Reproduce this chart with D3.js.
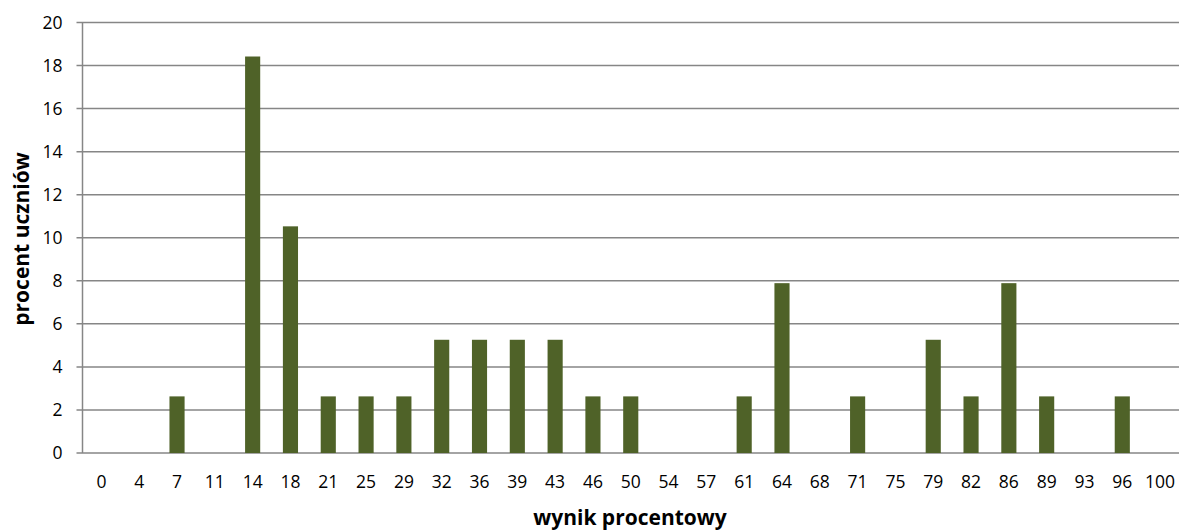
<!DOCTYPE html>
<html>
<head>
<meta charset="utf-8">
<script src="https://cdn.jsdelivr.net/npm/d3@7"></script>
<style>
  body { margin: 0; background: #fff; }
  text { font-family: "Open Sans", sans-serif; }
</style>
</head>
<body>
<div id="chart"></div>
<script>
var categories = ["0","4","7","11","14","18","21","25","29","32","36","39","43","46","50","54","57","61","64","68","71","75","79","82","86","89","93","96","100"];
var values = [0,0,2.63,0,18.42,10.53,2.63,2.63,2.63,5.26,5.26,5.26,5.26,2.63,2.63,0,0,2.63,7.89,0,2.63,0,5.26,2.63,7.89,2.63,0,2.63,0];
var yTicks = [0,2,4,6,8,10,12,14,16,18,20];

var width = 1181, height = 531;
var margin = {top: 22.5, right: 2, bottom: 78, left: 82.5};

var svg = d3.select("#chart")
    .append("svg")
    .attr("width", width)
    .attr("height", height);

var x = d3.scaleBand()
    .domain(categories)
    .range([margin.left, width - margin.right]);

var y = d3.scaleLinear()
    .domain([0, 20])
    .range([height - margin.bottom, margin.top]);

// grid lines
svg.append("g")
    .selectAll("line")
    .data(yTicks)
    .enter()
    .append("line")
    .attr("x1", margin.left - 6)
    .attr("x2", width - margin.right)
    .attr("y1", function(d) { return y(d); })
    .attr("y2", function(d) { return y(d); })
    .attr("stroke", "#868686")
    .attr("stroke-width", 1.5);

// y axis line
svg.append("line")
    .attr("x1", margin.left)
    .attr("x2", margin.left)
    .attr("y1", y(20))
    .attr("y2", y(0))
    .attr("stroke", "#868686")
    .attr("stroke-width", 1.5);

// y tick labels
svg.append("g")
    .selectAll("text")
    .data(yTicks)
    .enter()
    .append("text")
    .attr("x", margin.left - 20)
    .attr("y", function(d) { return y(d); })
    .attr("dy", "0.36em")
    .attr("text-anchor", "end")
    .attr("font-size", 17.5)
    .attr("fill", "#000")
    .text(function(d) { return d; });

// bars (gap width 150%)
svg.append("g")
    .selectAll("rect")
    .data(values)
    .enter()
    .append("rect")
    .attr("x", function(d, i) { return x(categories[i]) + x.bandwidth() * 0.3; })
    .attr("width", x.bandwidth() * 0.4)
    .attr("y", function(d) { return y(d); })
    .attr("height", function(d) { return y(0) - y(d); })
    .attr("fill", "#4F6228");

// x tick labels
svg.append("g")
    .selectAll("text")
    .data(categories)
    .enter()
    .append("text")
    .attr("x", function(d) { return x(d) + x.bandwidth() / 2; })
    .attr("y", 488)
    .attr("text-anchor", "middle")
    .attr("font-size", 17.5)
    .attr("fill", "#000")
    .text(function(d) { return d; });

// axis titles
svg.append("text")
    .attr("x", 630)
    .attr("y", 525)
    .attr("text-anchor", "middle")
    .attr("font-size", 21)
    .attr("font-weight", "bold")
    .text("wynik procentowy");

svg.append("text")
    .attr("transform", "translate(29,239) rotate(-90)")
    .attr("text-anchor", "middle")
    .attr("font-size", 21)
    .attr("font-weight", "bold")
    .text("procent uczniów");
</script>
</body>
</html>
